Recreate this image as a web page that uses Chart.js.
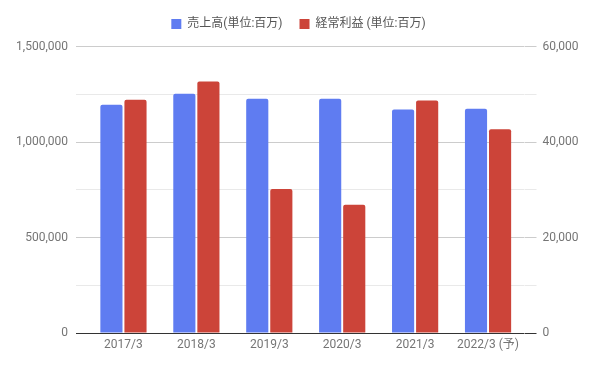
<!DOCTYPE html>
<html>
<head>
<meta charset="utf-8">
<script src="https://cdn.jsdelivr.net/npm/chart.js@4"></script>
<style>
  html, body { margin: 0; padding: 0; background: #fff; }
  #wrap { width: 596px; height: 368px; }
</style>
</head>
<body>
<div id="wrap"><canvas id="chart"></canvas></div>
<script>
// ================= DATA =================
const years = ["2017/3", "2018/3", "2019/3", "2020/3", "2021/3", "2022/3 (予)"];
const salesLabel = "売上高(単位:百万)";
const profitLabel = "経常利益 (単位:百万)";
const sales = [1196000, 1253000, 1227000, 1227000, 1171000, 1175000];
const profit = [48900, 52700, 30200, 26900, 48700, 42700];

const leftTicks = [0, 500000, 1000000, 1500000];
const rightTicks = [0, 20000, 40000, 60000];

// ================= STYLE =================
const BLUE = "#5f7cf1";
const RED = "#cc4439";
const MAJOR = "#cccccc";
const MINOR = "#e9e9e9";
const BASE = "#333333";
const TXT = "#757575";

Chart.defaults.font.family = "Roboto, 'Noto Sans CJK JP', sans-serif";
Chart.defaults.animation = false;

function lineColor(value, majors) {
  if (value === 0) return BASE;
  return majors.includes(value) ? MAJOR : MINOR;
}

// extra room under the legend
const legendGap = {
  id: "legendGap",
  beforeInit(chart) {
    const fit = chart.legend.fit;
    chart.legend.fit = function () {
      fit.call(this);
      this.height += 6.7;
    };
  }
};

new Chart(document.getElementById("chart"), {
  type: "bar",
  data: {
    labels: years,
    datasets: [
      { label: salesLabel, data: sales, backgroundColor: BLUE, yAxisID: "y",
        borderRadius: 2, borderSkipped: "start" },
      { label: profitLabel, data: profit, backgroundColor: RED, yAxisID: "y1",
        borderRadius: 2, borderSkipped: "start" }
    ]
  },
  options: {
    responsive: true,
    maintainAspectRatio: false,
    layout: { padding: { left: 15, right: 14, top: 1, bottom: 0 } },
    datasets: { bar: { categoryPercentage: 0.66, barPercentage: 0.92 } },
    plugins: {
      tooltip: { enabled: false },
      legend: {
        position: "top",
        labels: {
          boxWidth: 10,
          boxHeight: 10,
          padding: 17,
          color: "#555",
          font: { size: 12 }
        }
      }
    },
    scales: {
      x: {
        grid: { display: false, drawTicks: false, tickLength: 0 },
        border: { display: false },
        ticks: { color: TXT, font: { size: 12 }, padding: 5, maxRotation: 0 },
        afterFit: s => { s.height = 35; }
      },
      y: {
        position: "left",
        min: 0,
        max: 1500000,
        border: { display: false },
        grid: {
          color: c => lineColor(c.tick.value, leftTicks),
          tickColor: c => lineColor(c.tick.value, leftTicks),
          tickLength: 11
        },
        ticks: {
          stepSize: 250000,
          color: TXT,
          font: { size: 12 },
          padding: 8,
          callback: v => leftTicks.includes(v) ? v.toLocaleString("en-US") : ""
        },
        afterFit: s => { s.width = 72; }
      },
      y1: {
        position: "right",
        min: 0,
        max: 60000,
        border: { display: false },
        grid: {
          drawOnChartArea: false,
          tickColor: c => lineColor(c.tick.value, rightTicks),
          tickLength: 12
        },
        ticks: {
          stepSize: 10000,
          color: TXT,
          font: { size: 12 },
          padding: 6,
          callback: v => rightTicks.includes(v) ? v.toLocaleString("en-US") : ""
        },
        afterFit: s => { s.width = 57.5; }
      }
    }
  },
  plugins: [legendGap]
});
</script>
</body>
</html>
